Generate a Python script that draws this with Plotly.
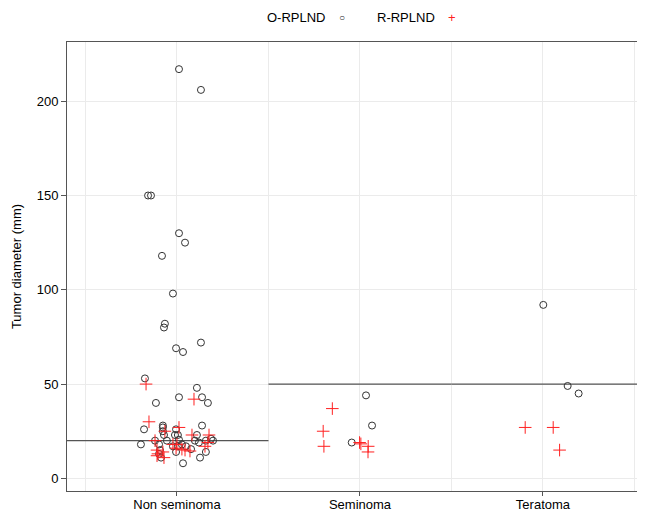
import plotly.graph_objects as go

# ---------------- data ----------------
categories = ["Non seminoma", "Seminoma", "Teratoma"]
cat_pos = [1, 2, 3]
medians = [20, 50, 50]

# O-RPLND (open circles): jittered category position and tumor diameter (mm)
o_pos = [1.011, 1.131, 0.842, 0.858, 1.011, 1.044, 0.918, 0.978, 0.934, 0.929,
         1.131, 0.995, 1.033, 0.825, 1.109, 1.011, 1.137, 1.169, 0.885, 0.923,
         1.137, 0.820, 0.923, 0.995, 0.923, 0.929, 0.989, 1.005, 1.109, 0.880,
         0.945, 1.011, 0.803, 0.902, 0.978, 1.005, 1.027, 1.049, 1.077, 0.995,
         0.902, 0.907, 1.098, 1.120, 1.158, 1.186, 1.197, 1.158, 1.126, 0.913,
         1.033,
         2.033, 2.066, 1.955,
         3.002, 3.135, 3.195]
o_diam = [217, 206, 150, 150, 130, 125, 118, 98, 82, 80,
          72, 69, 67, 53, 48, 43, 43, 40, 40, 28,
          28, 26, 27, 26, 25, 23, 23, 23, 23, 20,
          20, 20.5, 18, 18, 17, 17, 18, 17, 15.5, 14,
          13, 15, 20, 19, 20, 21, 20, 14, 11, 11,
          8,
          44, 28, 19,
          92, 49, 45]

# R-RPLND (red crosses)
r_pos = [0.831, 1.093, 0.847, 1.011, 0.934, 1.082, 1.175, 0.880, 0.978, 1.000,
         0.995, 1.027, 1.044, 1.071, 1.153, 1.169, 0.891, 0.896, 0.923, 0.891,
         0.929,
         1.849, 1.799, 1.803, 1.998, 2.005, 2.045, 2.044,
         2.903, 3.056, 3.091]
r_diam = [50, 42, 30, 27, 25, 23, 23, 20, 18, 18,
          16, 15.5, 15, 14.5, 17, 19, 15, 13, 14, 12,
          11,
          37, 25, 17, 19, 18.3, 17, 14,
          27, 27, 15]

y_ticks = [0, 50, 100, 150, 200]
x_range = [0.399, 3.514]
y_range = [-6.7, 231.4]

# ---------------- figure ----------------
fig = go.Figure()

# median segments (one per category, outer ones reaching the axis edges)
mx, my = [], []
for i, (p, m) in enumerate(zip(cat_pos, medians)):
    lo = x_range[0] if i == 0 else p - 0.5
    hi = x_range[1] if i == len(cat_pos) - 1 else p + 0.5
    mx += [lo, hi, None]
    my += [m, m, None]
fig.add_trace(go.Scatter(x=mx, y=my, mode="lines",
                         line=dict(color="#555555", width=1.3),
                         showlegend=False, hoverinfo="skip"))

fig.add_trace(go.Scatter(x=o_pos, y=o_diam, mode="markers", name="O-RPLND",
                         marker=dict(symbol="circle-open", size=7,
                                     color="#333333", line=dict(width=1)),
                         showlegend=False))
fig.add_trace(go.Scatter(x=r_pos, y=r_diam, mode="markers", name="R-RPLND",
                         marker=dict(symbol="cross-thin-open", size=9,
                                     color="#ff2020", line=dict(width=1, color="#ff2020")),
                         showlegend=False))

axis_col = "#555555"
grid_col = "#ebebeb"
font_fam = "Liberation Sans, Arial, sans-serif"

fig.update_layout(
    width=649, height=512,
    margin=dict(l=67, r=12, t=42, b=21),
    plot_bgcolor="white", paper_bgcolor="white",
    font=dict(family=font_fam, size=13, color="#000000"),
    xaxis=dict(range=x_range, tickvals=cat_pos, ticktext=categories,
               ticks="outside", ticklen=4, tickcolor=axis_col,
               ticklabelstandoff=-3,
               showline=True, linecolor=axis_col, linewidth=1, mirror=True,
               showgrid=True, gridcolor=grid_col, zeroline=False,
               minor=dict(tickvals=[0.5, 1.5, 2.5, 3.5], showgrid=True,
                          gridcolor=grid_col, ticks=""),
               tickfont=dict(size=13), automargin=False),
    yaxis=dict(range=y_range, tickvals=y_ticks,
               ticks="outside", ticklen=5, tickcolor=axis_col,
               showline=True, linecolor=axis_col, linewidth=1,
               showgrid=True, gridcolor=grid_col, zeroline=False,
               tickfont=dict(size=13), automargin=False,
               title=dict(text="Tumor diameter (mm)", font=dict(size=13), standoff=12)),
    annotations=[
        dict(text="O-RPLND", x=0.4018, y=1.0535, xref="paper", yref="paper",
             xanchor="center", yanchor="middle", showarrow=False, font=dict(size=13)),
        dict(text="○", x=0.482, y=1.0535, xref="paper", yref="paper",
             xanchor="center", yanchor="middle", showarrow=False,
             font=dict(size=10, color="#222222")),
        dict(text="R-RPLND", x=0.5947, y=1.0535, xref="paper", yref="paper",
             xanchor="center", yanchor="middle", showarrow=False, font=dict(size=13)),
        dict(text="+", x=0.675, y=1.0535, xref="paper", yref="paper",
             xanchor="center", yanchor="middle", showarrow=False,
             font=dict(size=13, color="#ff2020")),
    ],
)

fig.write_html("out.html", config={"displayModeBar": False})

# remove the default page margin so the figure sits at the window's corner
with open("out.html", "r", encoding="utf-8") as f:
    html = f.read()
html = html.replace("<head>", "<head><style>html,body{margin:0;padding:0;overflow:hidden;}</style>", 1)
with open("out.html", "w", encoding="utf-8") as f:
    f.write(html)
